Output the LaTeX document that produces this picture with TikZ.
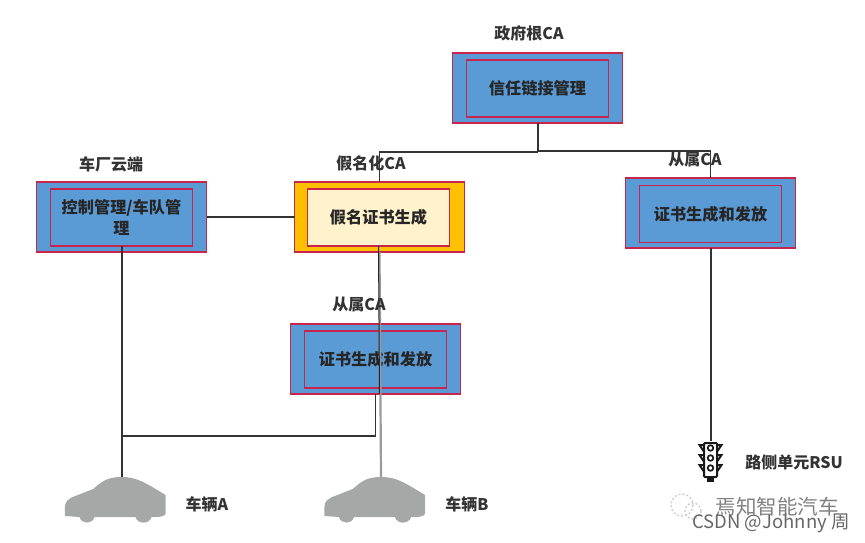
\documentclass[tikz,border=0pt]{standalone}
\usepackage{fontspec}
\setmainfont{Noto Sans CJK SC}
\usetikzlibrary{calc}
\definecolor{BoxClr}{HTML}{5B9BD5}
\definecolor{EdgeClr}{HTML}{C7254E}
\definecolor{PseudoClr}{HTML}{FFC000}
\definecolor{CreamClr}{HTML}{FFF2CC}
\definecolor{CarClr}{HTML}{A6A8A7}
\definecolor{LineClr}{HTML}{333333}
\definecolor{MarkClr}{HTML}{9A9A9A}
\newcommand{\boxtxt}[1]{\raisebox{-1.5pt}{#1}}
\tikzset{
  outerbox/.style={draw=EdgeClr,line width=1.5pt,fill=BoxClr,minimum width=170pt,minimum height=70pt,outer sep=0pt},
  innerbox/.style={draw=EdgeClr,line width=1.5pt,minimum width=142pt,minimum height=57pt,outer sep=0pt,align=center,
    font=\fontsize{16.2}{21}\selectfont\bfseries,text=black!85},
  capt/.style={font=\fontsize{16}{18}\selectfont\bfseries,text=black!80,inner sep=0pt},
  conn/.style={draw=LineClr,line width=1.5pt},
  car/.pic={\fill[CarClr] (-56.7,39) -- (-56.7,30) .. controls (-56,24) and (-53,22) .. (-50,20.5)
      -- (-28.3,12) .. controls (-20,5) and (-15,0) .. (0,0) .. controls (16,0) and (24,6) .. (44,18)
      -- (44,37) .. controls (42,40) and (38,40) .. (30,40) .. controls (28,47.5) and (16,47.5) .. (14,40)
      -- (-27,40) .. controls (-29,47.5) and (-40,47.5) .. (-42,40) -- cycle;},
  lamp/.pic={
    \draw[line width=2pt,black!90,rounded corners=1pt,fill=white] (-6.5,2) rectangle (6.5,36);
    \fill[black!90] (-3.5,36) rectangle (3.5,40.5);
    \foreach \yy in {7,17,27}{
      \draw[line width=1.7pt,black!90] (0,\yy) circle (2.8);
      \draw[line width=2pt,black!90] (-7,\yy-3) -- (-11,\yy-3) -- (-7,\yy+3);
      \draw[line width=2pt,black!90] (7,\yy-3) -- (11,\yy-3) -- (7,\yy+3);
    }}
}
\begin{document}
\begin{tikzpicture}[x=1pt,y=-1pt]
\useasboundingbox (0,0) rectangle (865,543);

\node[outerbox] (rootOut) at (537.5,88) {};
\node[innerbox] (rootIn) at (537.5,88.5) {\boxtxt{信任链接管理}};
\node[outerbox] (cloudOut) at (121.5,217) {};
\node[innerbox] (cloudIn) at (121.5,217.5) {控制管理/车队管\\理};
\node[outerbox,fill=PseudoClr] (pseudoOut) at (379.5,217) {};
\node[innerbox,fill=CreamClr] (pseudoIn) at (378.5,217.5) {\boxtxt{假名证书生成}};
\node[outerbox] (subROut) at (710.5,213) {};
\node[innerbox] (subRIn) at (710.5,214) {\boxtxt{证书生成和发放}};
\node[outerbox] (subMOut) at (375.5,359) {};
\node[innerbox] (subMIn) at (375.5,359.5) {\boxtxt{证书生成和发放}};

\coordinate (carA) at (121.5,477);
\coordinate (carB) at (381,477);
\coordinate (rsu) at (710.5,441);
\pic at (carA) {car};
\pic at (carB) {car};
\pic at (rsu) {lamp};

\coordinate (rootFork) at ($(rootOut.south)+(0,29)$);
\draw[conn,line width=2pt] (rootOut.south) -- (rootFork);
\draw[conn] (rootFork) -- (pseudoOut.north |- rootFork) -- (pseudoOut.north);
\draw[conn] ($(rootFork)+(0,-1)$) -| (subROut.north);
\draw[conn] (cloudOut.east) -- (cloudOut.east -| pseudoOut.west);
\draw[conn,line width=2pt] (subROut.south) -- (rsu);
\draw[conn,line width=2pt] (cloudIn.south) -- (carA);
\draw[conn] (subMOut.south) -- ++(0,42) -- (cloudIn.south |- 0,436);
\draw[MarkClr,line width=2.2pt] (pseudoOut.south) -- (carB);
\draw[black!85,line width=1pt] (pseudoIn.south) -- (379.5,394);

\node[capt] (rootCap) at (529,33) {政府根CA};
\node[capt] (cloudCap) at (111,164) {车厂云端};
\node[capt] (pseudoCap) at (371,163) {假名化CA};
\node[capt] (subRCap) at (695,159) {从属CA};
\node[capt] (subMCap) at (359,304) {从属CA};
\node[capt] (carACap) at (207,504) {车辆A};
\node[capt] (carBCap) at (467,504) {车辆B};
\node[capt] (rsuCap) at (794,462) {路侧单元RSU};

\draw[black!20,line width=1.3pt,dash pattern=on 2pt off 2pt] (682,505) circle (11);
\draw[black!20,line width=1.3pt,dash pattern=on 2pt off 2pt] (693,511) circle (8);
\node[capt,font=\fontsize{20.5}{22}\selectfont,text=black!50] (markCap) at (777,507) {焉知智能汽车};
\node[capt,font=\fontsize{18.5}{20}\selectfont,text=black!60] (csdnCap) at (771,523) {CSDN @Johnny 周};
\end{tikzpicture}
\end{document}
